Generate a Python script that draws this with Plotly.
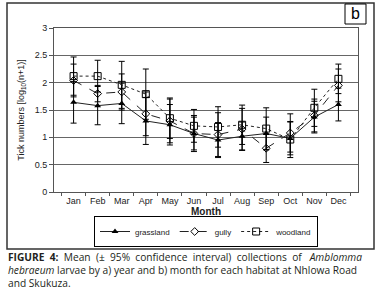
import plotly.graph_objects as go

months = ["Jan", "Feb", "Mar", "Apr", "May", "Jun", "Jul", "Aug", "Sep", "Oct", "Nov", "Dec"]

grassland = [1.64, 1.58, 1.62, 1.30, 1.23, 1.07, 0.95, 1.02, 1.07, 0.98, 1.37, 1.60]
grassland_ci = [0.38, 0.35, 0.37, 0.43, 0.37, 0.33, 0.32, 0.26, 0.30, 0.30, 0.29, 0.30]

gully = [2.04, 1.80, 1.83, 1.43, 1.30, 1.07, 1.05, 1.15, 0.80, 1.08, 1.40, 1.95]
gully_ci = [0.30, 0.15, 0.33, 0.40, 0.40, 0.30, 0.40, 0.38, 0.26, 0.35, 0.30, 0.30]

woodland = [2.12, 2.12, 1.96, 1.79, 1.35, 1.21, 1.19, 1.23, 1.16, 0.96, 1.54, 2.07]
woodland_ci = [0.35, 0.29, 0.43, 0.46, 0.37, 0.30, 0.37, 0.36, 0.38, 0.33, 0.34, 0.27]

caption_lines = [
    "<b>FIGURE&nbsp; 4:</b>&nbsp; Mean&nbsp; (±&nbsp; 95%&nbsp; confidence&nbsp; interval)&nbsp; collections&nbsp; of&nbsp;&nbsp; <i>Amblomma</i>",
    "<i>hebraeum</i> larvae by a) year and b) month for each habitat at Nhlowa Road",
    "and Skukuza.",
]

W, H = 381, 295
L, R, T, B = 54, 358, 28, 192  # plot area in pixels


def px(x):
    return (x - L) / (R - L)


def py(y):
    return (B - y) / (B - T)


fig = go.Figure()

series = [
    ("grassland", grassland, grassland_ci, "solid", dict(symbol="triangle-up", size=6, color="black")),
    ("gully", gully, gully_ci, "dash", dict(symbol="diamond-open", size=6, color="black", line=dict(width=1, color="black"))),
    ("woodland", woodland, woodland_ci, "dot", dict(symbol="square-open", size=7, color="black", line=dict(width=1, color="black"))),
]

for name, vals, ci, dash, marker in series:
    fig.add_trace(go.Scatter(
        x=months, y=vals, name=name, mode="lines+markers",
        line=dict(color="#222222", width=1, dash=dash),
        marker=marker,
        error_y=dict(type="data", array=ci, visible=True, color="black", thickness=1, width=3),
    ))

fig.update_layout(
    width=W, height=H,
    margin=dict(l=L, r=W - R, t=T, b=H - B, autoexpand=False),
    paper_bgcolor="white", plot_bgcolor="white",
    font=dict(family="Liberation Sans, Arial, sans-serif", size=9, color="#222222"),
    showlegend=True,
    legend=dict(
        orientation="h", x=0.5, xanchor="center", y=py(247), yanchor="bottom",
        bordercolor="black", borderwidth=1, bgcolor="white",
        font=dict(size=8), tracegroupgap=0, itemwidth=30,
        itemsizing="trace",
    ),
    xaxis=dict(
        type="category", categoryorder="array", categoryarray=months,
        showgrid=False, showline=True, linecolor="#555555", linewidth=1,
        ticks="outside", ticklen=3, tickcolor="#555555", tickson="boundaries",
        tickangle=0, tickfont=dict(size=9),
        title=dict(text="<b>Month</b>", font=dict(size=10), standoff=0),
        mirror=True, automargin=False,
    ),
    yaxis=dict(
        range=[0, 3], dtick=0.5, showgrid=True, gridcolor="#666666", gridwidth=1,
        showline=True, linecolor="#555555", linewidth=1, mirror=True,
        ticks="outside", ticklen=4, tickcolor="#555555", zeroline=False,
        automargin=False,
        title=dict(text="Tick numbers [log<sub>10</sub>(n+1)]", font=dict(size=9), standoff=8),
    ),
    shapes=[
        dict(type="rect", xref="paper", yref="paper",
             x0=px(7), x1=px(374), y0=py(249), y1=py(3),
             line=dict(color="#333333", width=1.5)),
        dict(type="rect", xref="paper", yref="paper",
             x0=px(345), x1=px(366), y0=py(24), y1=py(4),
             line=dict(color="black", width=1), fillcolor="white"),
    ],
    annotations=[
        dict(text="b", xref="paper", yref="paper", x=px(355.5), y=py(14), showarrow=False,
             font=dict(size=16, color="black", family="Liberation Sans, Arial"), xanchor="center", yanchor="middle"),
    ] + [
        dict(text=t, xref="paper", yref="paper", x=px(6), y=py(y), xanchor="left", yanchor="middle",
             showarrow=False, font=dict(family="Open Sans, Noto Sans, sans-serif", size=10.2, color="#231f20"))
        for t, y in zip(caption_lines, [257, 270, 283])
    ],
)

fig.write_html("out.html", config={"displayModeBar": False},
               post_script="document.body.style.margin='0';document.body.style.padding='0';")
